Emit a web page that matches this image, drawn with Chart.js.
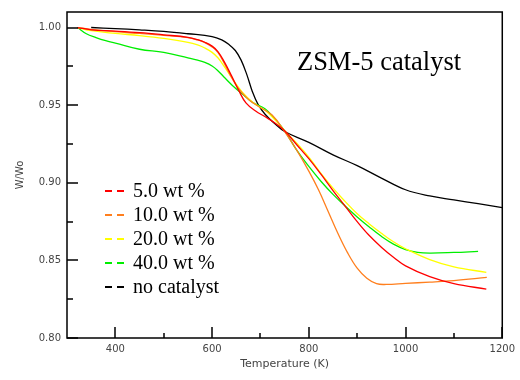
<!DOCTYPE html>
<html>
<head>
<meta charset="utf-8">
<script src="https://cdn.jsdelivr.net/npm/chart.js@4"></script>
<style>
  html, body { margin: 0; padding: 0; background: #fff; }
</style>
</head>
<body>
<canvas id="tga" width="520" height="380"></canvas>
<script>
// TGA curves: weight fraction vs temperature
const redT = [322, 350, 400, 450, 500, 550, 570, 585, 600, 612, 625, 640, 655, 670, 690, 710, 730, 750, 775, 800, 825, 850, 875, 900, 925, 950, 975, 1000, 1050, 1100, 1167];
const redW = [1.0, 0.9985, 0.9977, 0.9967, 0.9953, 0.9937, 0.9922, 0.9905, 0.988, 0.9845, 0.978, 0.969, 0.9595, 0.9515, 0.9462, 0.9425, 0.9385, 0.9335, 0.9245, 0.9155, 0.9055, 0.895, 0.885, 0.875, 0.866, 0.8585, 0.852, 0.8465, 0.8395, 0.835, 0.8315];

const orangeT = [322, 350, 400, 450, 500, 550, 570, 585, 600, 612, 625, 640, 655, 676, 697, 724, 750, 775, 800, 820, 840, 860, 880, 900, 920, 940, 960, 1000, 1050, 1100, 1168];
const orangeW = [1.0, 0.9988, 0.9973, 0.9962, 0.995, 0.9935, 0.992, 0.9903, 0.9875, 0.984, 0.977, 0.968, 0.9605, 0.9535, 0.949, 0.9436, 0.933, 0.921, 0.9075, 0.8955, 0.8815, 0.8675, 0.855, 0.845, 0.8385, 0.835, 0.8345, 0.8352, 0.836, 0.837, 0.839];

const yellowT = [322, 350, 400, 450, 500, 550, 570, 585, 600, 612, 625, 642, 662, 685, 710, 730, 750, 775, 800, 825, 850, 875, 900, 925, 950, 975, 1000, 1050, 1100, 1167];
const yellowW = [1.0, 0.998, 0.9962, 0.9948, 0.993, 0.9905, 0.9888, 0.9868, 0.984, 0.9805, 0.975, 0.967, 0.9585, 0.9515, 0.9465, 0.9405, 0.9335, 0.9255, 0.9165, 0.906, 0.8965, 0.888, 0.88, 0.8735, 0.8675, 0.862, 0.8575, 0.8505, 0.8458, 0.8423];

const greenT = [322, 340, 360, 380, 400, 450, 500, 550, 570, 585, 600, 612, 625, 642, 662, 685, 710, 730, 750, 775, 800, 825, 850, 875, 900, 925, 950, 975, 1000, 1025, 1050, 1100, 1150];
const greenW = [1.0, 0.996, 0.9935, 0.9915, 0.99, 0.986, 0.984, 0.9805, 0.979, 0.9775, 0.9752, 0.9722, 0.968, 0.9627, 0.9573, 0.9515, 0.9475, 0.941, 0.9335, 0.921, 0.9105, 0.901, 0.8925, 0.885, 0.878, 0.8715, 0.8655, 0.8605, 0.857, 0.8552, 0.8547, 0.8551, 0.8558];

const blackT = [350, 400, 450, 500, 550, 600, 620, 635, 648, 660, 672, 683, 695, 710, 730, 750, 800, 850, 900, 950, 1000, 1050, 1100, 1150, 1200];
const blackW = [1.0, 0.9993, 0.9985, 0.9975, 0.996, 0.9942, 0.992, 0.989, 0.9852, 0.979, 0.9695, 0.959, 0.9505, 0.944, 0.938, 0.933, 0.926, 0.918, 0.911, 0.903, 0.8955, 0.8915, 0.889, 0.8865, 0.884];

const seriesLabels = ["5.0 wt %", "10.0 wt %", "20.0 wt %", "40.0 wt %", "no catalyst"];
const seriesColors = ["#ff0000", "#ff7f1e", "#ffff00", "#00ee00", "#000000"];

// axis ticks
const xMajor = [400, 600, 800, 1000, 1200];
const xMinor = [500, 700, 900, 1100];
const yMajor = [0.8, 0.85, 0.9, 0.95, 1.0];
const yMinor = [0.825, 0.875, 0.925, 0.975];

const chartTitle = "ZSM-5 catalyst";

function toPoints(ts, ws) {
  return ts.map((t, i) => ({ x: t, y: ws[i] }));
}

const allT = [redT, orangeT, yellowT, greenT, blackT];
const allW = [redW, orangeW, yellowW, greenW, blackW];

// frame + inward ticks
const frameTicks = {
  id: "frameTicks",
  afterDatasetsDraw(chart) {
    const { ctx, chartArea: a, scales } = chart;
    const x = scales.x, y = scales.y;
    ctx.save();
    ctx.strokeStyle = "#000";
    ctx.lineWidth = 1.5;
    ctx.beginPath();
    xMajor.forEach((v) => {
      const px = Math.round(x.getPixelForValue(v));
      ctx.moveTo(px, a.bottom);
      ctx.lineTo(px, a.bottom - 11);
    });
    xMinor.forEach((v) => {
      const px = Math.round(x.getPixelForValue(v));
      ctx.moveTo(px, a.bottom);
      ctx.lineTo(px, a.bottom - 5);
    });
    yMajor.forEach((v) => {
      const py = Math.round(y.getPixelForValue(v));
      ctx.moveTo(a.left, py);
      ctx.lineTo(a.left + 11, py);
    });
    yMinor.forEach((v) => {
      const py = Math.round(y.getPixelForValue(v));
      ctx.moveTo(a.left, py);
      ctx.lineTo(a.left + 6, py);
    });
    ctx.stroke();
    ctx.strokeRect(a.left, a.top, a.right - a.left, a.bottom - a.top);
    ctx.restore();
  },
};

// title and legend inside the plot
const insideText = {
  id: "insideText",
  afterDraw(chart) {
    const { ctx, chartArea: a } = chart;
    ctx.save();
    ctx.fillStyle = "#000";
    ctx.font = "26.5px 'Liberation Serif'";
    ctx.textAlign = "center";
    ctx.textBaseline = "alphabetic";
    ctx.fillText(chartTitle, a.left + 312, a.top + 58);

    ctx.font = "20px 'Liberation Serif'";
    ctx.textAlign = "left";
    ctx.textBaseline = "middle";
    seriesLabels.forEach((lbl, i) => {
      const yy = a.top + 179 + i * 24;
      ctx.strokeStyle = seriesColors[i];
      ctx.lineWidth = 2;
      ctx.setLineDash([7, 5]);
      ctx.beginPath();
      ctx.moveTo(a.left + 38, yy);
      ctx.lineTo(a.left + 57, yy);
      ctx.stroke();
      ctx.setLineDash([]);
      ctx.fillStyle = "#000";
      ctx.fillText(lbl, a.left + 66, yy + 1);
    });
    ctx.restore();
  },
};

Chart.defaults.font.family = "'DejaVu Sans'";
Chart.defaults.font.size = 10;
Chart.defaults.color = "#444";

const ctx = document.getElementById("tga").getContext("2d");
new Chart(ctx, {
  type: "line",
  data: {
    datasets: seriesLabels.map((lbl, i) => ({
      label: lbl,
      data: toPoints(allT[i], allW[i]),
      borderColor: seriesColors[i],
      borderWidth: 1.3,
      pointRadius: 0,
      fill: false,
      tension: 0.4,
    })),
  },
  options: {
    responsive: false,
    animation: false,
    devicePixelRatio: 1,
    layout: { padding: { top: 9, right: 15, left: 0, bottom: 0 } },
    plugins: {
      legend: { display: false },
      tooltip: { enabled: false },
    },
    scales: {
      x: {
        type: "linear",
        min: 300,
        max: 1200,
        afterBuildTicks: (scale) => {
          scale.ticks = xMajor.map((v) => ({ value: v }));
        },
        afterFit: (scale) => {
          scale.height = 42;
        },
        ticks: { padding: 5, maxRotation: 0, callback: (v) => String(v) },
        grid: { display: false, drawTicks: false },
        border: { display: false },
        title: {
          display: true,
          text: "Temperature (K)",
          font: { size: 11 },
          padding: { top: 0, bottom: 9 },
        },
      },
      y: {
        type: "linear",
        min: 0.8,
        max: 1.01,
        afterBuildTicks: (scale) => {
          scale.ticks = yMajor.map((v) => ({ value: v }));
        },
        afterFit: (scale) => {
          scale.width = 67;
        },
        ticks: { padding: 6, callback: (v) => v.toFixed(2) },
        grid: { display: false, drawTicks: false },
        border: { display: false },
        title: {
          display: true,
          text: "W/Wo",
          font: { size: 10 },
          padding: { top: 14, bottom: 0 },
        },
      },
    },
  },
  plugins: [frameTicks, insideText],
});
</script>
</body>
</html>
